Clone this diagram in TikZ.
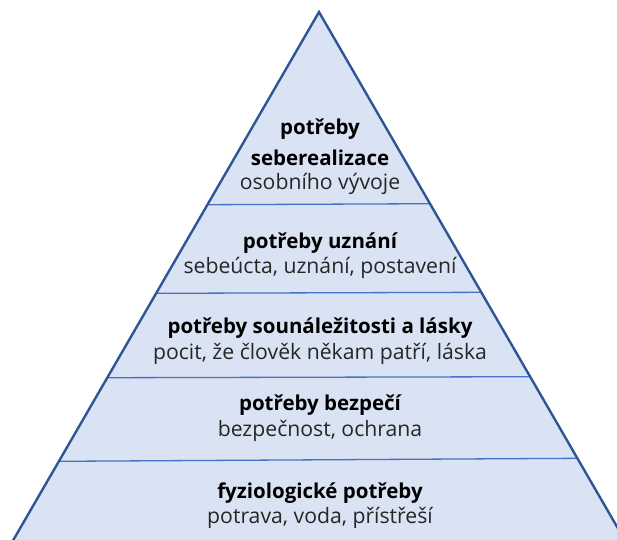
\documentclass[tikz,border=0pt]{standalone}
\usepackage{fontspec}
\setmainfont{Open Sans}
\definecolor{pyrfill}{HTML}{DAE3F3}
\definecolor{pyredge}{HTML}{2F5597}
\definecolor{pyrdiv}{HTML}{4472C4}
\definecolor{txtgray}{HTML}{262626}
\tikzset{
  title/.style={font=\fontsize{20.5}{24}\selectfont\bfseries, text=black, inner sep=0pt, anchor=center},
  sub/.style={font=\fontsize{21.2}{24}\selectfont, text=txtgray, inner sep=0pt, anchor=center},
  divider/.style={draw=pyrdiv, line width=1.3pt},
}
\begin{document}
\begin{tikzpicture}[x=1pt,y=-1pt]
\useasboundingbox (0,0) rectangle (617,539);
\clip (0,0) rectangle (617,539);
% pyramid outline
\coordinate (apex) at (319,12);
\coordinate (bl) at (-16.8,592);
\coordinate (br) at (654.8,592);
\fill[pyrfill] (apex) -- (bl) -- (br) -- cycle;
% dividers
\coordinate (d1l) at (207.7,204.7); \coordinate (d1r) at (430.3,203.7);
\coordinate (d2l) at (156.4,293.3); \coordinate (d2r) at (481.6,292.3);
\coordinate (d3l) at (107.6,377.7); \coordinate (d3r) at (530.4,376.7);
\coordinate (d4l) at (58.9,461.3);  \coordinate (d4r) at (577.4,458.3);
\draw[divider] (d1l) -- (d1r);
\draw[divider] (d2l) -- (d2r);
\draw[divider] (d3l) -- (d3r);
\draw[divider] (d4l) -- (d4r);
\draw[pyredge, line width=2.4pt, line join=miter] (bl) -- (apex) -- (br);
% texts
\node[title] (t1a) at (320,129) {potřeby};
\node[title] (t1b) at (320,158) {seberealizace};
\node[sub]   (s1)  at (320,184) {osobního vývoje};
\node[title] (t2)  at (320,243) {potřeby uznání};
\node[sub]   (s2)  at (320,268) {sebeúcta, uznání, postavení};
\node[title] (t3)  at (320,328) {potřeby sounáležitosti a lásky};
\node[sub]   (s3)  at (320,354) {pocit, že člověk někam patří, láska};
\node[title] (t4)  at (320,405) {potřeby bezpečí};
\node[sub]   (s4)  at (320,431) {bezpečnost, ochrana};
\node[title] (t5)  at (320,493) {fyziologické potřeby};
\node[sub]   (s5)  at (320,518) {potrava, voda, přístřeší};
\end{tikzpicture}
\end{document}
